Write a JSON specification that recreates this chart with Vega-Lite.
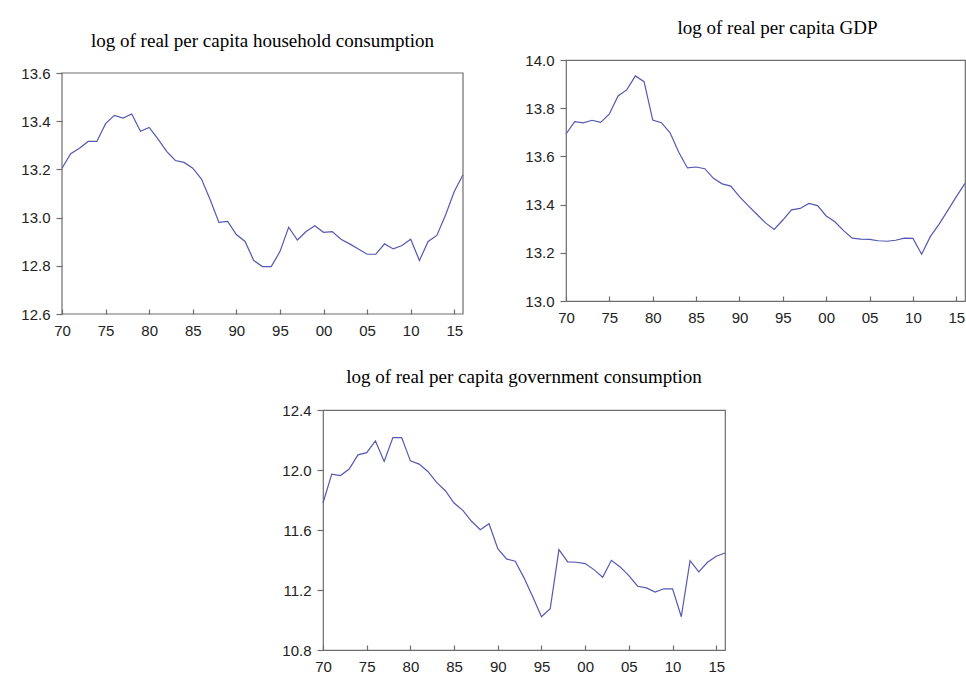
{
  "$schema": "https://vega.github.io/schema/vega-lite/v6.json",
  "padding": {"left": 20, "top": 18, "right": 0, "bottom": 0},
  "background": "white",
  "datasets": {
    "hh": [
      {"year": 1970, "value": 13.205}, {"year": 1971, "value": 13.265}, {"year": 1972, "value": 13.288},
      {"year": 1973, "value": 13.316}, {"year": 1974, "value": 13.316}, {"year": 1975, "value": 13.39},
      {"year": 1976, "value": 13.424}, {"year": 1977, "value": 13.413}, {"year": 1978, "value": 13.43},
      {"year": 1979, "value": 13.358}, {"year": 1980, "value": 13.374}, {"year": 1981, "value": 13.327},
      {"year": 1982, "value": 13.275}, {"year": 1983, "value": 13.237}, {"year": 1984, "value": 13.229},
      {"year": 1985, "value": 13.205}, {"year": 1986, "value": 13.16}, {"year": 1987, "value": 13.074},
      {"year": 1988, "value": 12.98}, {"year": 1989, "value": 12.984}, {"year": 1990, "value": 12.93},
      {"year": 1991, "value": 12.901}, {"year": 1992, "value": 12.822}, {"year": 1993, "value": 12.797},
      {"year": 1994, "value": 12.797}, {"year": 1995, "value": 12.859}, {"year": 1996, "value": 12.96},
      {"year": 1997, "value": 12.907}, {"year": 1998, "value": 12.942}, {"year": 1999, "value": 12.966},
      {"year": 2000, "value": 12.939}, {"year": 2001, "value": 12.942}, {"year": 2002, "value": 12.91},
      {"year": 2003, "value": 12.891}, {"year": 2004, "value": 12.87}, {"year": 2005, "value": 12.848},
      {"year": 2006, "value": 12.848}, {"year": 2007, "value": 12.891}, {"year": 2008, "value": 12.87},
      {"year": 2009, "value": 12.884}, {"year": 2010, "value": 12.91}, {"year": 2011, "value": 12.822},
      {"year": 2012, "value": 12.901}, {"year": 2013, "value": 12.926}, {"year": 2014, "value": 13.011},
      {"year": 2015, "value": 13.108}, {"year": 2016, "value": 13.178}
    ],
    "gdp": [
      {"year": 1970, "value": 13.693}, {"year": 1971, "value": 13.744}, {"year": 1972, "value": 13.739},
      {"year": 1973, "value": 13.75}, {"year": 1974, "value": 13.741}, {"year": 1975, "value": 13.776},
      {"year": 1976, "value": 13.851}, {"year": 1977, "value": 13.876}, {"year": 1978, "value": 13.934},
      {"year": 1979, "value": 13.91}, {"year": 1980, "value": 13.751}, {"year": 1981, "value": 13.74},
      {"year": 1982, "value": 13.698}, {"year": 1983, "value": 13.617}, {"year": 1984, "value": 13.552},
      {"year": 1985, "value": 13.556}, {"year": 1986, "value": 13.549}, {"year": 1987, "value": 13.509},
      {"year": 1988, "value": 13.486}, {"year": 1989, "value": 13.477}, {"year": 1990, "value": 13.433},
      {"year": 1991, "value": 13.396}, {"year": 1992, "value": 13.36}, {"year": 1993, "value": 13.324},
      {"year": 1994, "value": 13.297}, {"year": 1995, "value": 13.336}, {"year": 1996, "value": 13.378},
      {"year": 1997, "value": 13.384}, {"year": 1998, "value": 13.405}, {"year": 1999, "value": 13.396},
      {"year": 2000, "value": 13.353}, {"year": 2001, "value": 13.329}, {"year": 2002, "value": 13.292},
      {"year": 2003, "value": 13.261}, {"year": 2004, "value": 13.257}, {"year": 2005, "value": 13.256},
      {"year": 2006, "value": 13.25}, {"year": 2007, "value": 13.248}, {"year": 2008, "value": 13.252},
      {"year": 2009, "value": 13.261}, {"year": 2010, "value": 13.26}, {"year": 2011, "value": 13.194},
      {"year": 2012, "value": 13.267}, {"year": 2013, "value": 13.318}, {"year": 2014, "value": 13.375},
      {"year": 2015, "value": 13.433}, {"year": 2016, "value": 13.488}
    ],
    "gov": [
      {"year": 1970, "value": 11.78}, {"year": 1971, "value": 11.972}, {"year": 1972, "value": 11.963},
      {"year": 1973, "value": 12.006}, {"year": 1974, "value": 12.101}, {"year": 1975, "value": 12.116},
      {"year": 1976, "value": 12.194}, {"year": 1977, "value": 12.057}, {"year": 1978, "value": 12.216},
      {"year": 1979, "value": 12.216}, {"year": 1980, "value": 12.061}, {"year": 1981, "value": 12.039},
      {"year": 1982, "value": 11.99}, {"year": 1983, "value": 11.917}, {"year": 1984, "value": 11.862},
      {"year": 1985, "value": 11.78}, {"year": 1986, "value": 11.731}, {"year": 1987, "value": 11.658},
      {"year": 1988, "value": 11.602}, {"year": 1989, "value": 11.642}, {"year": 1990, "value": 11.476},
      {"year": 1991, "value": 11.407}, {"year": 1992, "value": 11.392}, {"year": 1993, "value": 11.281},
      {"year": 1994, "value": 11.155}, {"year": 1995, "value": 11.022}, {"year": 1996, "value": 11.075},
      {"year": 1997, "value": 11.469}, {"year": 1998, "value": 11.387}, {"year": 1999, "value": 11.385},
      {"year": 2000, "value": 11.376}, {"year": 2001, "value": 11.336}, {"year": 2002, "value": 11.285},
      {"year": 2003, "value": 11.398}, {"year": 2004, "value": 11.354}, {"year": 2005, "value": 11.296},
      {"year": 2006, "value": 11.225}, {"year": 2007, "value": 11.214}, {"year": 2008, "value": 11.186},
      {"year": 2009, "value": 11.208}, {"year": 2010, "value": 11.208}, {"year": 2011, "value": 11.022},
      {"year": 2012, "value": 11.396}, {"year": 2013, "value": 11.321}, {"year": 2014, "value": 11.385},
      {"year": 2015, "value": 11.425}, {"year": 2016, "value": 11.447}
    ]
  },
  "spacing": 29,
  "vconcat": [
    {
      "spacing": 54,
      "hconcat": [
        {
          "width": 401,
          "height": 254,
          "view": {"stroke": null},
          "title": {"text": "log of real per capita household consumption", "offset": -6, "baseline": "alphabetic"},
          "layer": [
            {
              "data": {"name": "hh"},
              "mark": {"type": "line", "color": "#5558b0", "strokeWidth": 1.2},
              "encoding": {
                "x": {"field": "year", "type": "quantitative",
                      "scale": {"domain": [1970, 2016], "nice": false, "zero": false},
                      "axis": {"values": [1970, 1975, 1980, 1985, 1990, 1995, 2000, 2005, 2010, 2015],
                               "labelExpr": "substring(toString(datum.value), 2, 4)", "title": null, "labelFlush": false}},
                "y": {"field": "value", "type": "quantitative",
                      "scale": {"domain": [12.6, 13.654], "nice": false, "zero": false},
                      "axis": {"values": [12.6, 12.8, 13.0, 13.2, 13.4, 13.6], "format": ".1f", "title": null,
                               "labelFlush": false, "minExtent": 42, "maxExtent": 42}}
              }
            },
            {
              "data": {"values": [{}]},
              "mark": {"type": "rect", "filled": false, "stroke": "#6e6e6e", "strokeWidth": 1.2},
              "encoding": {
                "x": {"datum": 1970, "type": "quantitative"},
                "x2": {"datum": 2016},
                "y": {"datum": 12.6, "type": "quantitative"},
                "y2": {"datum": 13.6}
              }
            }
          ]
        },
        {
          "width": 399,
          "height": 241,
          "title": {"text": "log of real per capita GDP", "offset": 0, "baseline": "alphabetic", "dx": 12},
          "data": {"name": "gdp"},
          "mark": {"type": "line", "color": "#5558b0", "strokeWidth": 1.2},
          "encoding": {
            "x": {"field": "year", "type": "quantitative",
                  "scale": {"domain": [1970, 2016], "nice": false, "zero": false},
                  "axis": {"values": [1970, 1975, 1980, 1985, 1990, 1995, 2000, 2005, 2010, 2015],
                           "labelExpr": "substring(toString(datum.value), 2, 4)", "title": null, "labelFlush": false}},
            "y": {"field": "value", "type": "quantitative",
                  "scale": {"domain": [13.0, 14.0], "nice": false, "zero": false},
                  "axis": {"values": [13.0, 13.2, 13.4, 13.6, 13.8, 14.0], "format": ".1f", "title": null,
                           "labelFlush": false, "minExtent": 45, "maxExtent": 45}}
          }
        }
      ]
    },
    {
      "spacing": 20,
      "hconcat": [
        {
          "width": 195,
          "height": 10,
          "view": {"stroke": null},
          "data": {"values": []},
          "mark": "point"
        },
        {
          "width": 402,
          "height": 240,
          "title": {"text": "log of real per capita government consumption", "offset": 1, "baseline": "alphabetic"},
          "data": {"name": "gov"},
          "mark": {"type": "line", "color": "#5558b0", "strokeWidth": 1.2},
          "encoding": {
            "x": {"field": "year", "type": "quantitative",
                  "scale": {"domain": [1970, 2016], "nice": false, "zero": false},
                  "axis": {"values": [1970, 1975, 1980, 1985, 1990, 1995, 2000, 2005, 2010, 2015],
                           "labelExpr": "substring(toString(datum.value), 2, 4)", "title": null, "labelFlush": false}},
            "y": {"field": "value", "type": "quantitative",
                  "scale": {"domain": [10.8, 12.4], "nice": false, "zero": false},
                  "axis": {"values": [10.8, 11.2, 11.6, 12.0, 12.4], "format": ".1f", "title": null,
                           "labelFlush": false, "minExtent": 45, "maxExtent": 45}}
          }
        }
      ]
    }
  ],
  "config": {
    "view": {"stroke": "#6e6e6e", "strokeWidth": 1.2},
    "axis": {"domain": false, "grid": false, "tickColor": "#6e6e6e", "tickWidth": 1.2,
             "labelFont": "Liberation Sans", "labelFontSize": 15, "labelColor": "#222222"},
    "axisY": {"tickSize": 6, "labelPadding": 6, "labelBaseline": "middle"},
    "axisX": {"tickSize": -5, "labelPadding": 14},
    "title": {"font": "Liberation Serif", "fontSize": 19, "fontWeight": "normal", "color": "#000000", "anchor": "middle"}
  }
}
